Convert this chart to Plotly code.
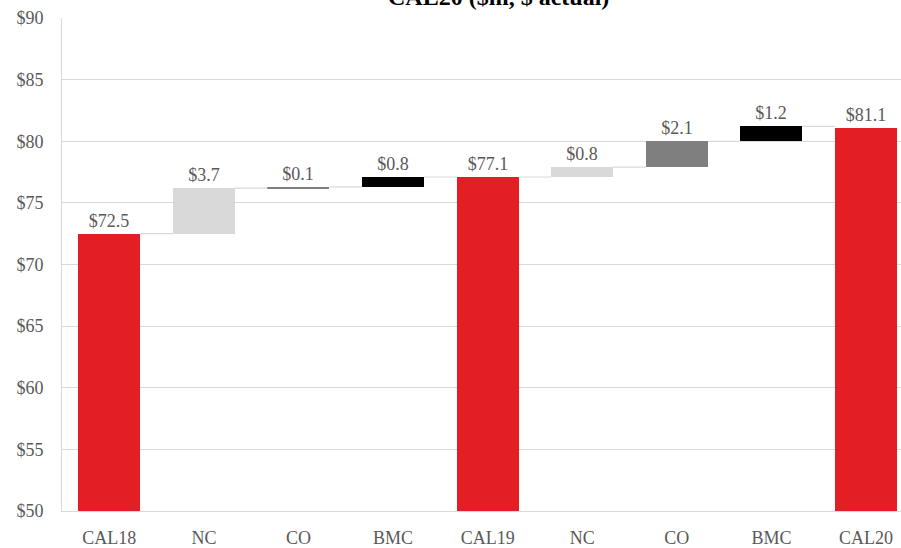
import plotly.graph_objects as go

# Bridge from CAL18 to CAL20 revenue ($m)
categories = ["CAL18", "NC", "CO", "BMC", "CAL19", "NC", "CO", "BMC", "CAL20"]
kinds = ["total", "step", "step", "step", "total", "step", "step", "step", "total"]
values = [72.5, 3.7, 0.1, 0.8, 77.1, 0.8, 2.1, 1.2, 81.1]
labels = ["$72.5", "$3.7", "$0.1", "$0.8", "$77.1", "$0.8", "$2.1", "$1.2", "$81.1"]
colors = ["#E31E24", "#D9D9D9", "#7F7F7F", "#000000", "#E31E24",
          "#D9D9D9", "#7F7F7F", "#000000", "#E31E24"]
tick_values = [50, 55, 60, 65, 70, 75, 80, 85, 90]
tick_text = ["$50", "$55", "$60", "$65", "$70", "$75", "$80", "$85", "$90"]

# running bases and tops of each bar
bases, tops = [], []
level = 0.0
for kind, v in zip(kinds, values):
    if kind == "total":
        bases.append(0.0)
        level = v
    else:
        bases.append(level)
        level = level + v
    tops.append(level)
heights = [t - b for t, b in zip(tops, bases)]

xs = list(range(len(categories)))
bar_w = 0.655

fig = go.Figure()

# connector lines between consecutive bars
cx, cy = [], []
for i in range(len(xs) - 1):
    cx += [xs[i] + bar_w / 2, xs[i + 1] - bar_w / 2, None]
    cy += [tops[i], tops[i], None]
fig.add_trace(go.Scatter(x=cx, y=cy, mode="lines",
                         line=dict(color="#D9D9D9", width=1.2),
                         hoverinfo="skip", showlegend=False))

fig.add_trace(go.Bar(
    x=xs, y=heights, base=bases, width=bar_w,
    marker=dict(color=colors, line=dict(width=0)),
    text=labels, textposition="outside",
    textfont=dict(family="Liberation Serif", size=18, color="#595959"),
    cliponaxis=False, showlegend=False,
))

serif = "Liberation Serif"
fig.update_layout(
    width=901, height=548,
    margin=dict(l=62, r=0, t=18, b=32),
    paper_bgcolor="white", plot_bgcolor="white",
    bargap=0,
    font=dict(family=serif, size=18, color="#595959"),
    xaxis=dict(
        range=[-0.5, 8.37], tickmode="array", tickvals=xs, ticktext=categories,
        showgrid=False, zeroline=False, showline=True, linecolor="#D9D9D9",
        linewidth=1, ticks="", ticklabelstandoff=10,
        tickfont=dict(family=serif, size=18, color="#595959"),
    ),
    yaxis=dict(
        range=[50, 90], tickmode="array", tickvals=tick_values, ticktext=tick_text,
        showgrid=True, gridcolor="#D9D9D9", gridwidth=1, zeroline=False,
        showline=True, linecolor="#D9D9D9", linewidth=1, ticks="",
        ticklabelstandoff=14,
        tickfont=dict(family=serif, size=18, color="#595959"),
    ),
    annotations=[dict(
        text="<b>CAL20 ($m, $ actual)</b>", xref="paper", yref="paper",
        x=0.52, y=1.012, xanchor="center", yanchor="bottom", showarrow=False,
        font=dict(family=serif, size=24, color="#000000"),
    )],
)

fig.write_html("out.html")
